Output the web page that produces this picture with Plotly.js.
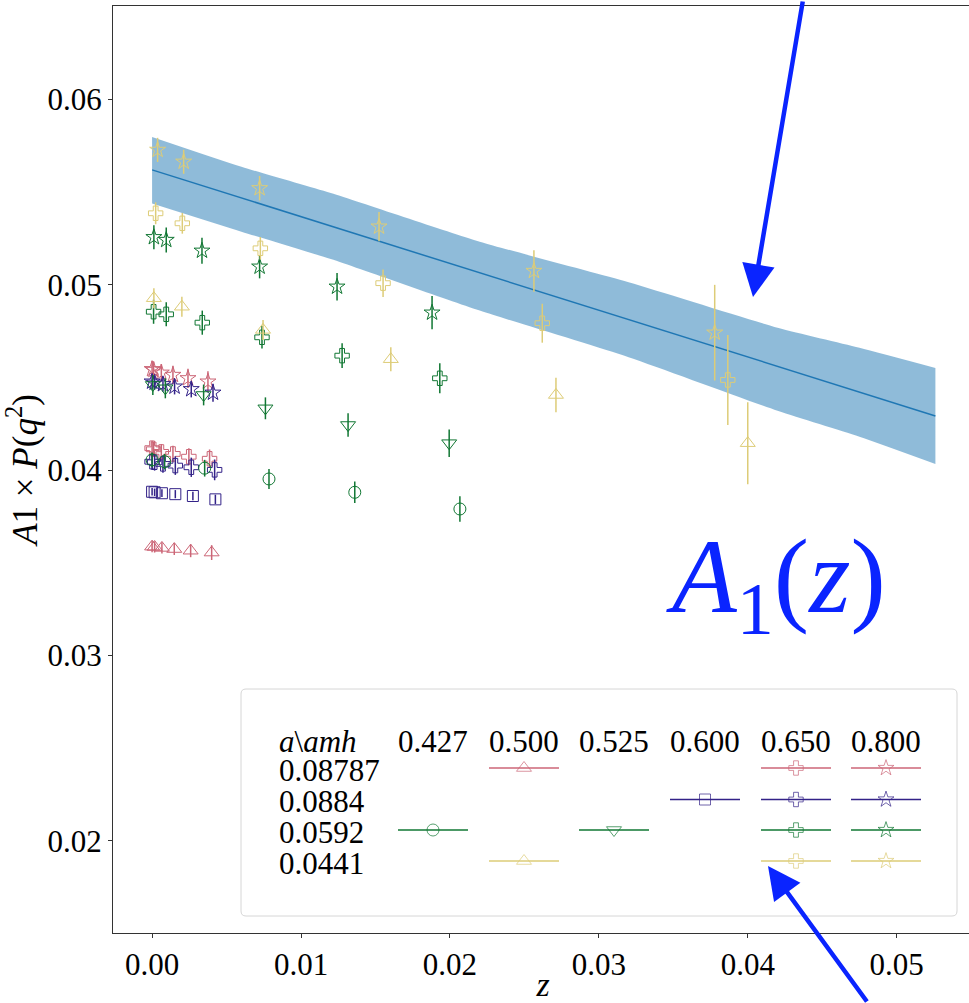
<!DOCTYPE html>
<html>
<head>
<meta charset="utf-8">
<script src="https://cdn.plot.ly/plotly-3.0.1.min.js"></script>
<style>
html,body{margin:0;padding:0;overflow:hidden;background:#fff;}
#chart{width:969px;height:1003px;}
</style>
</head>
<body>
<div id="chart"></div>
<script>
// ---------- fit band A1(z) ----------
const band_z   = [0.0, 0.006, 0.012, 0.022, 0.032, 0.042, 0.0475, 0.0526];
const band_hi  = [0.05797, 0.05636, 0.05494, 0.05232, 0.05013, 0.04768, 0.04660, 0.04551];
const band_lo  = [0.05438, 0.05286, 0.05138, 0.04860, 0.04609, 0.04320, 0.04180, 0.04033];
// central fit line (straight): end points
const line_z = [0.0, 0.0526];
const line_v = [0.05619, 0.04292];

// ---------- a = 0.08787 (red) ----------
const z_08787_500 = [0.0, 0.00017, 0.00066, 0.00149, 0.00259, 0.00400];
const v_08787_500 = [0.03587, 0.03585, 0.03580, 0.03574, 0.03565, 0.03555];
const e_08787_500 = [0.00030, 0.00030, 0.00030, 0.00032, 0.00035, 0.00040];
const z_08787_650 = [0.0, 0.00010, 0.00062, 0.00140, 0.00247, 0.00386];
const v_08787_650 = [0.04118, 0.04112, 0.04098, 0.04087, 0.04072, 0.04061];
const e_08787_650 = [0.00040, 0.00040, 0.00042, 0.00044, 0.00046, 0.00050];
const z_08787_800 = [0.0, 0.00010, 0.00062, 0.00140, 0.00241, 0.00375];
const v_08787_800 = [0.04544, 0.04540, 0.04525, 0.04513, 0.04495, 0.04477];
const e_08787_800 = [0.00045, 0.00045, 0.00047, 0.00050, 0.00052, 0.00056];

// ---------- a = 0.0884 (blue) ----------
const z_0884_600 = [0.0, 0.00017, 0.00066, 0.00156, 0.00274, 0.00425];
const v_0884_600 = [0.03883, 0.03880, 0.03875, 0.03870, 0.03860, 0.03842];
const e_0884_600 = [0.00020, 0.00020, 0.00021, 0.00022, 0.00023, 0.00025];
const z_0884_650 = [0.0, 0.00017, 0.00073, 0.00156, 0.00263, 0.00420];
const v_0884_650 = [0.04045, 0.04042, 0.04033, 0.04024, 0.04015, 0.04001];
const e_0884_650 = [0.00045, 0.00045, 0.00047, 0.00050, 0.00052, 0.00056];
const z_0884_800 = [0.0, 0.00017, 0.00073, 0.00151, 0.00263, 0.00409];
const v_0884_800 = [0.04477, 0.04471, 0.04463, 0.04450, 0.04436, 0.04417];
const e_0884_800 = [0.00038, 0.00038, 0.00040, 0.00042, 0.00044, 0.00048];

// ---------- a = 0.0592 (green) ----------
const z_0592_427 = [0.0, 0.00084, 0.00353, 0.00785, 0.01361, 0.02067];
const v_0592_427 = [0.04055, 0.04045, 0.04010, 0.03952, 0.03880, 0.03790];
const e_0592_427 = [0.00040, 0.00042, 0.00045, 0.00054, 0.00058, 0.00069];
const z_0592_525 = [0.00005, 0.00089, 0.00346, 0.00761, 0.01316, 0.01995];
const v_0592_525 = [0.04459, 0.04441, 0.04405, 0.04333, 0.04243, 0.04145];
const e_0592_525 = [0.00054, 0.00054, 0.00056, 0.00059, 0.00063, 0.00074];
const z_0592_650 = [0.00010, 0.00095, 0.00337, 0.00738, 0.01276, 0.01932];
const v_0592_650 = [0.04854, 0.04840, 0.04795, 0.04716, 0.04617, 0.04495];
const e_0592_650 = [0.00065, 0.00065, 0.00065, 0.00061, 0.00067, 0.00081];
const z_0592_800 = [0.00012, 0.00095, 0.00335, 0.00722, 0.01242, 0.01880];
const v_0592_800 = [0.05256, 0.05241, 0.05183, 0.05097, 0.04989, 0.04849];
const e_0592_800 = [0.00065, 0.00067, 0.00070, 0.00063, 0.00074, 0.00090];

// ---------- a = 0.0441 (yellow) ----------
const z_0441_500 = [0.00012, 0.00200, 0.00745, 0.01603, 0.02712, 0.04000];
const v_0441_500 = [0.04927, 0.04881, 0.04756, 0.04598, 0.04405, 0.04145];
const e_0441_500 = [0.00054, 0.00054, 0.00054, 0.00065, 0.00093, 0.00221];
const z_0441_650 = [0.00024, 0.00203, 0.00727, 0.01551, 0.02620, 0.03866];
const v_0441_650 = [0.05385, 0.05331, 0.05196, 0.05008, 0.04792, 0.04486];
const e_0441_650 = [0.00059, 0.00056, 0.00061, 0.00074, 0.00105, 0.00243];
const z_0441_800 = [0.00037, 0.00212, 0.00722, 0.01524, 0.02564, 0.03778];
const v_0441_800 = [0.05727, 0.05663, 0.05520, 0.05313, 0.05074, 0.04741];
const e_0441_800 = [0.00065, 0.00065, 0.00066, 0.00079, 0.00112, 0.00258];

// ---------- legend table labels ----------
const amhLabels = ["0.427", "0.500", "0.525", "0.600", "0.650", "0.800"];
const aLabels   = ["0.08787", "0.0884", "0.0592", "0.0441"];

// ---------- styling ----------
const C_RED = "#CC6677", C_BLUE = "#332288", C_GREEN = "#117733", C_YEL = "#DDCC77";
const SYM = {"0.427":"circle-open","0.500":"triangle-up-open","0.525":"triangle-down-open",
             "0.600":"square-open","0.650":"cross-open","0.800":"star-open"};
const SIZE = {"0.427":12,"0.500":13,"0.525":13,"0.600":11,"0.650":12,"0.800":12};
const ACOL = {"0.08787":C_RED,"0.0884":C_BLUE,"0.0592":C_GREEN,"0.0441":C_YEL};

const series = [
  ["0.08787","0.500",z_08787_500,v_08787_500,e_08787_500],
  ["0.08787","0.650",z_08787_650,v_08787_650,e_08787_650],
  ["0.08787","0.800",z_08787_800,v_08787_800,e_08787_800],
  ["0.0884","0.600",z_0884_600,v_0884_600,e_0884_600],
  ["0.0884","0.650",z_0884_650,v_0884_650,e_0884_650],
  ["0.0884","0.800",z_0884_800,v_0884_800,e_0884_800],
  ["0.0592","0.427",z_0592_427,v_0592_427,e_0592_427],
  ["0.0592","0.525",z_0592_525,v_0592_525,e_0592_525],
  ["0.0592","0.650",z_0592_650,v_0592_650,e_0592_650],
  ["0.0592","0.800",z_0592_800,v_0592_800,e_0592_800],
  ["0.0441","0.500",z_0441_500,v_0441_500,e_0441_500],
  ["0.0441","0.650",z_0441_650,v_0441_650,e_0441_650],
  ["0.0441","0.800",z_0441_800,v_0441_800,e_0441_800]
];

const FONT = "Liberation Serif, DejaVu Serif, serif";
const traces = [];

// band
traces.push({x: band_z, y: band_lo, mode:"lines", line:{width:0, color:"rgba(0,0,0,0)", shape:"spline", smoothing:0.6},
  hoverinfo:"skip", showlegend:false});
traces.push({x: band_z, y: band_hi, mode:"lines", line:{width:0, color:"rgba(0,0,0,0)", shape:"spline", smoothing:0.6},
  fill:"tonexty", fillcolor:"rgba(31,119,180,0.5)", hoverinfo:"skip", showlegend:false});
traces.push({x: line_z, y: line_v, mode:"lines", line:{width:1.5, color:"#1f77b4"},
  showlegend:false});

// data
series.forEach(s => {
  const col = ACOL[s[0]];
  traces.push({
    x: s[2], y: s[3], mode:"markers", showlegend:false,
    name: "a=" + s[0] + ", amh=" + s[1],
    marker:{symbol: SYM[s[1]], size: SIZE[s[1]], color: col, line:{width:1, color: col}},
    error_y:{type:"data", array: s[4], visible:true, color: col, thickness:1.5, width:0}
  });
});

// legend table (layout positions in pixel space of overlay axes)
const colX = {"0.427":433,"0.500":524,"0.525":614,"0.600":705,"0.650":796,"0.800":886};
const rowY = {"0.08787":768,"0.0884":799.5,"0.0592":830,"0.0441":861};
const HALF = 35;
series.forEach(s => {
  const col = ACOL[s[0]];
  const cx = colX[s[1]], cy = rowY[s[0]];
  traces.push({
    x:[cx-HALF, cx, cx+HALF], y:[cy, cy, cy], xaxis:"x2", yaxis:"y2",
    mode:"lines+markers", showlegend:false, hoverinfo:"skip",
    line:{color: col, width:1.5},
    marker:{symbol: SYM[s[1]], size:[0,SIZE[s[1]],0], color: col, line:{width:1, color: col}}
  });
});

const annotations = [];
const LF = 31;
annotations.push({xref:"x2", yref:"y2", x:277, y:741, xanchor:"left", yanchor:"middle",
  text:"<i>a</i>\\<i>amh</i>", showarrow:false, font:{family:FONT, size:LF, color:"#000"}});
amhLabels.forEach(l => annotations.push({xref:"x2", yref:"y2", x:colX[l], y:741,
  xanchor:"center", yanchor:"middle", text:l, showarrow:false, font:{family:FONT, size:LF, color:"#000"}}));
aLabels.forEach(l => annotations.push({xref:"x2", yref:"y2", x:277, y:rowY[l]+2,
  xanchor:"left", yanchor:"middle", text:l, showarrow:false, font:{family:FONT, size:LF, color:"#000"}}));

// big label
annotations.push({xref:"x2", yref:"y2", x:776, y:584, xanchor:"center", yanchor:"middle",
  text:"<i>A</i><sub>1</sub>(<i>z</i>)", showarrow:false, font:{family:FONT, size:106, color:"#0a24ff"}});
// arrows
annotations.push({xref:"x2", yref:"y2", x:753, y:297, text:"", showarrow:true,
  ax:50, ay:-310, arrowhead:2, arrowsize:1.45, arrowwidth:4.5, arrowcolor:"#0a24ff", standoff:0});
annotations.push({xref:"x2", yref:"y2", x:768, y:866, text:"", showarrow:true,
  ax:100, ay:145, arrowhead:2, arrowsize:1.45, arrowwidth:4.5, arrowcolor:"#0a24ff", standoff:0});

const R = 5, L0 = 241, L1 = 957, T0 = 689, T1 = 916;
const boxPath = `M ${L0+R},${T0} L ${L1-R},${T0} Q ${L1},${T0} ${L1},${T0+R} L ${L1},${T1-R} Q ${L1},${T1} ${L1-R},${T1} L ${L0+R},${T1} Q ${L0},${T1} ${L0},${T1-R} L ${L0},${T0+R} Q ${L0},${T0} ${L0+R},${T0} Z`;

const layout = {
  width: 973, height: 1003,
  margin:{l:113, r:0, t:6, b:70, pad:0},
  paper_bgcolor:"#fff", plot_bgcolor:"#fff",
  font:{family:FONT, size:31, color:"#000"},
  showlegend:false,
  xaxis:{range:[-0.002625, 0.055125], tick0:0, dtick:0.01, tickformat:".2f",
    showgrid:false, zeroline:false, showline:true, mirror:true, linecolor:"#333", linewidth:1,
    ticks:"outside", ticklen:4, tickwidth:1, tickcolor:"#333",
    tickfont:{family:FONT, size:31, color:"#000"},
    title:{text:"<i>z</i>", font:{family:FONT, size:34, color:"#000"}, standoff:6}},
  yaxis:{range:[0.01503, 0.06503], tick0:0, dtick:0.01, tickformat:".2f",
    showgrid:false, zeroline:false, showline:true, mirror:true, linecolor:"#333", linewidth:1,
    ticks:"outside", ticklen:4, tickwidth:1, tickcolor:"#333",
    tickfont:{family:FONT, size:31, color:"#000"},
    title:{text:"<i>A</i>1 × <i>P</i>(<i>q</i><sup>2</sup>)", font:{family:FONT, size:35, color:"#000"}, standoff:10}},
  xaxis2:{overlaying:"x", anchor:"y2", range:[113, 973], visible:false, fixedrange:true},
  yaxis2:{overlaying:"y", anchor:"x2", range:[933, 6], visible:false, fixedrange:true},
  shapes:[{type:"path", xref:"x2", yref:"y2", path: boxPath, layer:"below",
    fillcolor:"rgba(255,255,255,0.8)", line:{color:"#d6d6d6", width:1}}],
  annotations: annotations
};

Plotly.newPlot("chart", traces, layout, {displayModeBar:false, staticPlot:true});
</script>
</body>
</html>
